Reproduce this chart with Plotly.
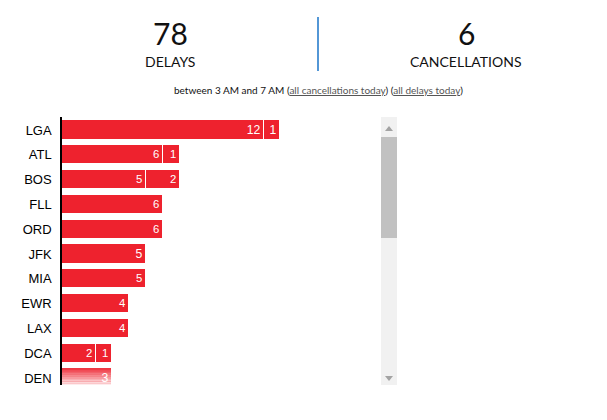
import plotly.graph_objects as go

airports = ["LGA", "ATL", "BOS", "FLL", "ORD", "JFK", "MIA", "EWR", "LAX", "DCA", "DEN"]
seg1 = [12, 6, 5, 6, 6, 5, 5, 4, 4, 2, 3]
seg2 = [1, 1, 2, None, None, None, None, None, None, 1, None]

OFF = 8  # page body margin
W, H = 590, 404
L, T, B = 62 - OFF, 117 - OFF, 385 - OFF
PX_PER_UNIT = 16.8
plot_w = W - L

fig = go.Figure()
red = "#ee222e"
for vals in (seg1, seg2):
    fig.add_trace(go.Bar(
        y=airports, x=vals, orientation="h", width=0.77,
        marker=dict(color=red, line=dict(color="white", width=1)),
        text=[str(v) if v else "" for v in vals], textposition="inside",
        insidetextanchor="end", textangle=0,
        textfont=dict(color="white", size=14, family="Arial"),
        hoverinfo="skip", showlegend=False, cliponaxis=True,
    ))

row = 24.8
top_units = (130 - 117) / row
bot_units = (385 - 378) / row
fig.update_layout(
    width=W, height=H, barmode="stack", bargap=0,
    plot_bgcolor="white", paper_bgcolor="white",
    margin=dict(l=L, r=0, t=T, b=H - B),
    xaxis=dict(range=[0, plot_w / PX_PER_UNIT], visible=False, fixedrange=True),
    yaxis=dict(range=[len(airports) - 1 + bot_units, -top_units], type="category",
               showline=True, linecolor="black", linewidth=1.5, showgrid=False,
               ticks="", ticklabelstandoff=6,
               tickfont=dict(family="Arial", size=13, color="black")),
    font=dict(family="Lato"),
)

def px(x):
    return (x - OFF - L) / plot_w
def py(y):
    return (B - (y - OFF)) / (B - T)

shapes = []
for i in range(10):
    y0 = 368 + i * 1.7
    shapes.append(dict(type="rect", xref="paper", yref="paper", x0=px(62), x1=px(140),
                       y0=py(y0 + 1.7), y1=py(y0), line=dict(width=0),
                       fillcolor="rgba(255,255,255,%.2f)" % (0.1 + i * 0.09)))
shapes.append(dict(type="rect", xref="paper", yref="paper", x0=px(381), x1=px(397),
                   y0=py(385), y1=py(117), line=dict(width=0), fillcolor="#f1f1f1", layer="above"))
shapes.append(dict(type="rect", xref="paper", yref="paper", x0=px(381), x1=px(397),
                   y0=py(238), y1=py(137), line=dict(width=0), fillcolor="#c1c1c1", layer="above"))
shapes.append(dict(type="path", xref="paper", yref="paper",
                   path=f"M {px(385)} {py(131)} L {px(393)} {py(131)} L {px(389)} {py(126)} Z",
                   fillcolor="#a3a3a3", line=dict(width=0), layer="above"))
shapes.append(dict(type="path", xref="paper", yref="paper",
                   path=f"M {px(385)} {py(376)} L {px(393)} {py(376)} L {px(389)} {py(381)} Z",
                   fillcolor="#a3a3a3", line=dict(width=0), layer="above"))
shapes.append(dict(type="line", xref="paper", yref="paper", x0=px(318), x1=px(318),
                   y0=py(17), y1=py(71), line=dict(color="#1a74c9", width=1.5)))
fig.update_layout(shapes=shapes)

ann = [
    ("78", 170, 33, 30), ("DELAYS", 170, 61, 14),
    ("6", 466, 33, 30), ("CANCELLATIONS", 466, 61, 14),
    ("between 3 AM and 7 AM (<span style='color:#555'><u>all cancellations today</u></span>) "
     "(<span style='color:#555'><u>all delays today</u></span>)", 318, 90, 10),
]
for txt, x, y, s in ann:
    fig.add_annotation(text=txt, xref="paper", yref="paper", x=px(x), y=py(y),
                       showarrow=False, xanchor="center", yanchor="middle",
                       font=dict(family="Lato", size=s, color="#111"))

fig.write_html("out.html")
